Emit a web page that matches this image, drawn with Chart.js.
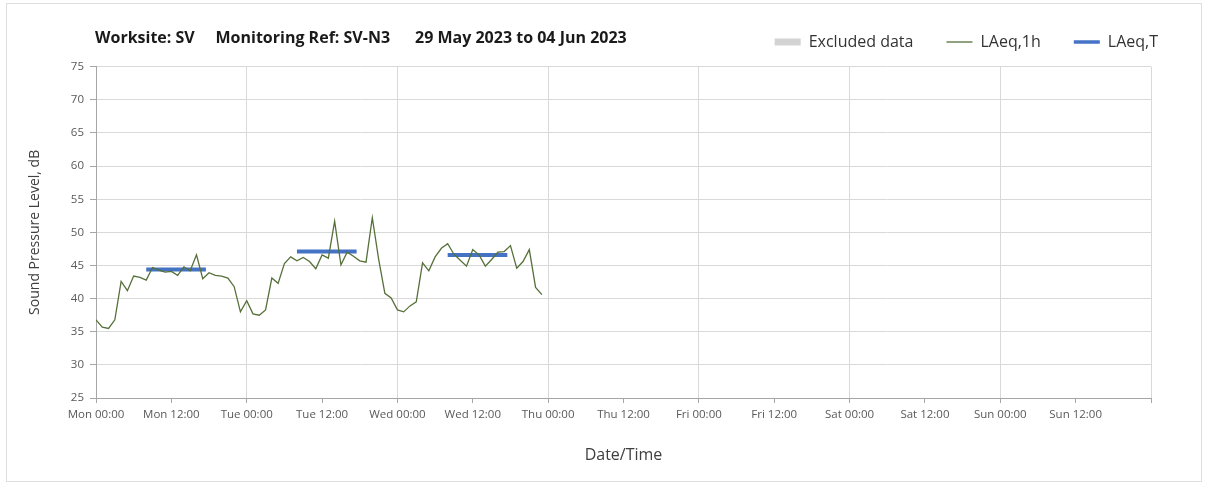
<!DOCTYPE html>
<html>
<head>
<meta charset="utf-8">
<title>SV-N3 noise monitoring</title>
<script src="https://cdn.jsdelivr.net/npm/chart.js@4.4.0/dist/chart.umd.min.js"></script>
<style>
  body { margin: 0; background: #fff; }
  #wrap { position: relative; width: 1208px; height: 492px; }
  #frame { position: absolute; left: 6px; top: 3px; width: 1194px; height: 477px; border: 1px solid #dedede; pointer-events: none; }
</style>
</head>
<body>
<div id="wrap">
  <canvas id="noiseChart" width="1208" height="492"></canvas>
  <div id="frame"></div>
</div>
<script>
const FONT = "'Open Sans', sans-serif";
const TITLE = 'Worksite: SV     Monitoring Ref: SV-N3      29 May 2023 to 04 Jun 2023';

// x axis runs in hours from Mon 00:00, labelled every 12 h
const DAYS = ['Mon', 'Tue', 'Wed', 'Thu', 'Fri', 'Sat', 'Sun'];
const TIMES = ['00:00', '12:00'];

// hourly LAeq,1h (dB) starting Mon 00:00
const laeq1h = [
  36.8, 35.7, 35.5, 36.8, 42.6, 41.2, 43.4, 43.2, 42.8, 44.7, 44.3, 44.0,
  44.1, 43.5, 44.8, 44.2, 46.6, 43.0, 43.9, 43.5, 43.4, 43.1, 41.8, 38.0,
  39.7, 37.7, 37.5, 38.3, 43.1, 42.3, 45.3, 46.3, 45.7, 46.2, 45.6, 44.5,
  46.6, 46.1, 51.7, 45.1, 47.0, 46.4, 45.7, 45.5, 52.2, 46.0, 40.8, 40.1,
  38.3, 38.0, 38.9, 39.5, 45.4, 44.2, 46.3, 47.6, 48.3, 46.7, 45.8, 44.9,
  47.4, 46.6, 44.9, 45.9, 47.0, 47.1, 48.0, 44.6, 45.6, 47.4, 41.7, 40.6
];

// daytime LAeq,T periods (hours from Mon 00:00)
const periodStart = [8, 32, 56];
const periodEnd = [17.5, 41.5, 65.5];
const laeqT = [44.4, 47.1, 46.6];

const hourlyPoints = laeq1h.map(function(v, h) {
        return {x: h, y: v};
});
const periodPoints = [];
for (let i = 0; i < laeqT.length; i++) {
        periodPoints.push({x: periodStart[i], y: laeqT[i]});
        periodPoints.push({x: periodEnd[i], y: laeqT[i]});
        periodPoints.push({x: periodEnd[i], y: null});
}

// heading sits on the same row as the legend
const headerText = {
        id: 'headerText',
        afterDraw(chart) {
                const box = chart.legend.legendHitBoxes[0];
                const ctx = chart.ctx;
                ctx.save();
                ctx.font = 'bold 16px ' + FONT;
                ctx.fillStyle = '#1a1a1a';
                ctx.textBaseline = 'middle';
                ctx.fillText(TITLE, chart.chartArea.left - 1, box.top + box.height / 2 - 4);
                ctx.restore();
        }
};

const tickFont = {family: FONT, size: 11.5};

const config = {
        type: 'line',
        data: {
                datasets: [{
                        label: 'Excluded data',
                        data: [],
                        backgroundColor: '#d3d3d3',
                        borderColor: '#d3d3d3',
                        pointStyle: 'rect',
                        pointBackgroundColor: '#d3d3d3',
                        pointBorderWidth: 0
                }, {
                        label: 'LAeq,1h',
                        data: hourlyPoints,
                        borderColor: '#56703a',
                        borderWidth: 1.3,
                        pointRadius: 0,
                        pointStyle: 'line',
                        pointBorderWidth: 1.3
                }, {
                        label: 'LAeq,T',
                        data: periodPoints,
                        borderColor: '#4472c4',
                        borderWidth: 4,
                        pointRadius: 0,
                        pointStyle: 'line',
                        pointBorderWidth: 3.5
                }]
        },
        options: {
                responsive: false,
                animation: false,
                layout: {padding: {left: 8, right: 17, top: 1, bottom: 10}},
                plugins: {
                        legend: {
                                position: 'top',
                                align: 'end',
                                labels: {
                                        usePointStyle: true,
                                        pointStyleWidth: 26,
                                        boxHeight: 7,
                                        padding: 33,
                                        color: '#333333',
                                        font: {family: FONT, size: 16}
                                }
                        },
                        // empty subtitle below the legend, used as a gap above the plot
                        subtitle: {
                                display: true,
                                text: '',
                                weight: 500,
                                font: {size: 1},
                                padding: {top: 5.5, bottom: 0}
                        },
                        tooltip: {enabled: false}
                },
                scales: {
                        x: {
                                type: 'linear',
                                min: 0,
                                max: 168,
                                ticks: {
                                        stepSize: 12,
                                        autoSkip: false,
                                        maxRotation: 0,
                                        padding: 5,
                                        color: '#595959',
                                        font: tickFont,
                                        callback: function(value) {
                                                if (value >= 168) return '';
                                                return DAYS[Math.floor(value / 24)] + ' ' + TIMES[(value % 24) / 12];
                                        }
                                },
                                grid: {
                                        color: function(ctx) {
                                                return ctx.tick && ctx.tick.value % 24 === 0 ? '#d9d9d9' : 'rgba(0,0,0,0)';
                                        },
                                        tickColor: '#a6a6a6',
                                        tickLength: 5
                                },
                                border: {color: '#a6a6a6'},
                                title: {
                                        display: true,
                                        text: 'Date/Time',
                                        color: '#404040',
                                        font: {family: FONT, size: 16},
                                        padding: {top: 0, bottom: 17}
                                },
                                afterFit: function(scale) { scale.height = 84; }
                        },
                        y: {
                                min: 25,
                                max: 75,
                                ticks: {stepSize: 5, padding: 6, color: '#595959', font: tickFont},
                                grid: {color: '#d9d9d9', tickColor: '#a6a6a6', tickLength: 6},
                                border: {color: '#a6a6a6'},
                                title: {
                                        display: true,
                                        text: 'Sound Pressure Level, dB',
                                        color: '#404040',
                                        font: {family: FONT, size: 14},
                                        padding: {top: 19, bottom: 0}
                                },
                                afterFit: function(scale) { scale.width = 88; }
                        },
                        yRight: {
                                type: 'linear',
                                axis: 'y',
                                position: 'right',
                                grid: {display: false},
                                ticks: {display: false},
                                border: {display: false},
                                afterFit: function(scale) { scale.width = 40; }
                        }
                }
        },
        plugins: [headerText]
};

const noiseChart = new Chart(document.getElementById('noiseChart'), config);
</script>
</body>
</html>
